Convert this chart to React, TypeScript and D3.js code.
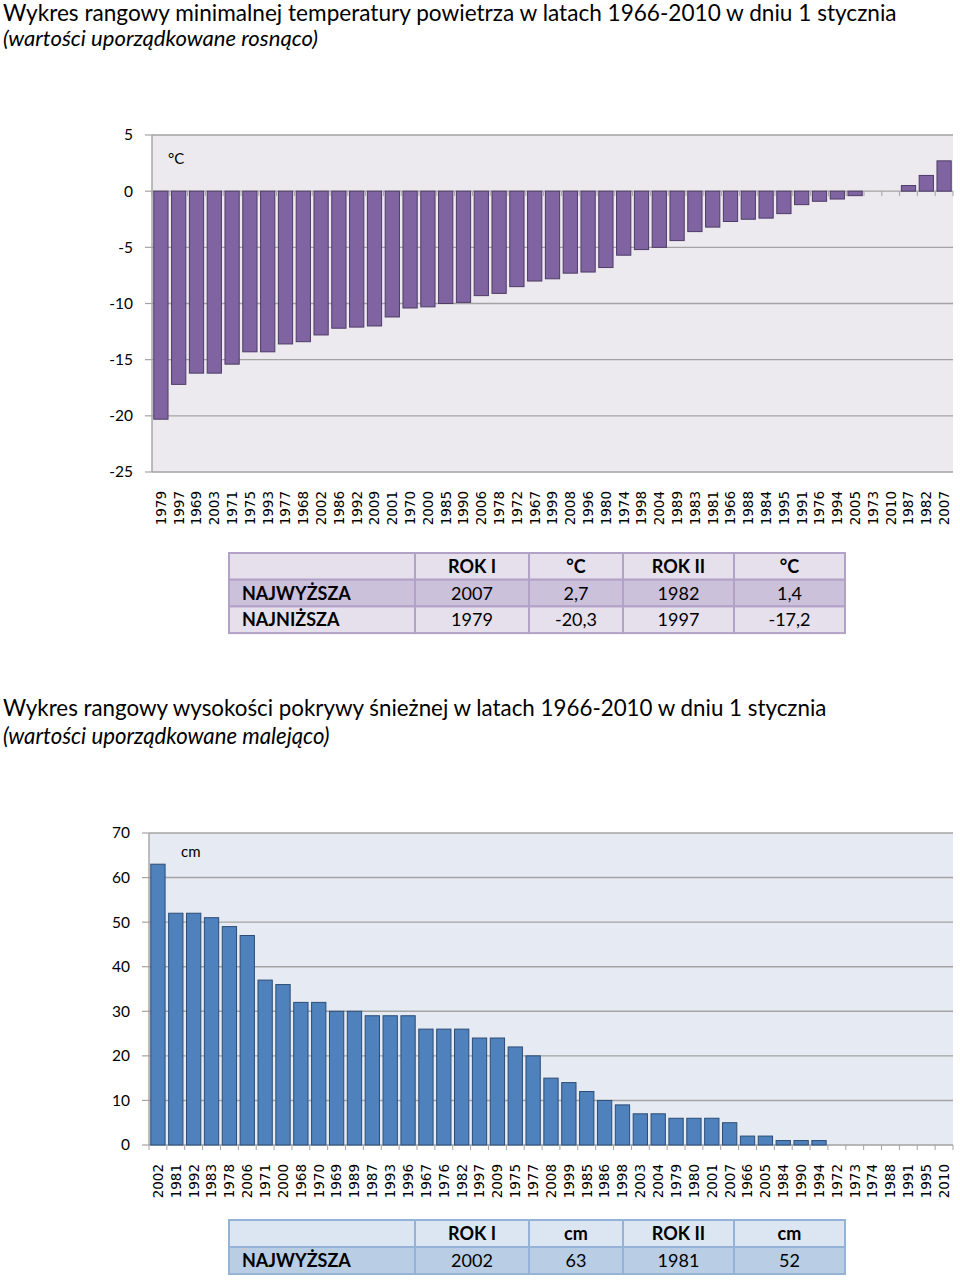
import React from "react";
import * as d3 from "d3";

// ---------- DATA ----------
const tempYears = ["1979","1997","1969","2003","1971","1975","1993","1977","1968","2002","1986","1992","2009","2001","1970","2000","1985","1990","2006","1978","1972","1967","1999","2008","1996","1980","1974","1998","2004","1989","1983","1981","1966","1988","1984","1995","1991","1976","1994","2005","1973","2010","1987","1982","2007"];
const tempValues = [-20.3,-17.2,-16.2,-16.2,-15.4,-14.3,-14.3,-13.6,-13.4,-12.8,-12.2,-12.1,-12.0,-11.2,-10.4,-10.3,-10.0,-9.9,-9.3,-9.1,-8.5,-8.0,-7.8,-7.3,-7.2,-6.8,-5.7,-5.2,-5.0,-4.4,-3.6,-3.2,-2.7,-2.5,-2.4,-2.0,-1.2,-0.9,-0.7,-0.4,0,0,0.5,1.4,2.7];
const tempTicks = [5,0,-5,-10,-15,-20,-25];

const snowYears = ["2002","1981","1992","1983","1978","2006","1971","2000","1968","1970","1969","1989","1987","1993","1996","1967","1976","1982","1997","2009","1975","1977","2008","1999","1985","1986","1998","2003","2004","1979","1980","2001","2007","1966","2005","1984","1990","1994","1972","1973","1974","1988","1991","1995","2010"];
const snowValues = [63,52,52,51,49,47,37,36,32,32,30,30,29,29,29,26,26,26,24,24,22,20,15,14,12,10,9,7,7,6,6,6,5,2,2,1,1,1,0,0,0,0,0,0,0];
const snowTicks = [70,60,50,40,30,20,10,0];

const table1Header = ["", "ROK I", "°C", "ROK II", "°C"];
const table1Rows = [
  ["NAJWYŻSZA", "2007", "2,7", "1982", "1,4"],
  ["NAJNIŻSZA", "1979", "-20,3", "1997", "-17,2"],
];
const table2Header = ["", "ROK I", "cm", "ROK II", "cm"];
const table2Rows = [["NAJWYŻSZA", "2002", "63", "1981", "52"]];

const FONT = "Lato, 'Open Sans', sans-serif";
const LABEL_FONT = "'DejaVu Sans', sans-serif";

type ChartProps = {
  years: string[];
  values: number[];
  ticks: number[];
  domain: [number, number];
  top: number;
  bottom: number;
  left: number;
  right: number;
  bg: string;
  fill: string;
  stroke: string;
  unit: string;
  unitX: number;
  unitY: number;
};

function BarChart(p: ChartProps) {
  const x = d3.scaleBand<string>().domain(p.years).range([p.left, p.right]).paddingInner(0.2).paddingOuter(0.1);
  const y = d3.scaleLinear().domain(p.domain).range([p.bottom, p.top]);
  const y0 = y(0);
  const edges = d3.range(p.years.length + 1).map((i) => p.left + i * ((p.right - p.left) / p.years.length));
  return (
    <g>
      <rect x={p.left} y={p.top} width={p.right - p.left} height={p.bottom - p.top} fill={p.bg} />
      {p.ticks.map((t) => (
        <g key={t}>
          <line x1={p.left} x2={p.right} y1={y(t)} y2={y(t)} stroke="#A3A3A3" strokeWidth={1.4} />
          <line x1={p.left - 7} x2={p.left} y1={y(t)} y2={y(t)} stroke="#A3A3A3" strokeWidth={1.2} />
          <text x={p.left - 19} y={y(t)} dy="0.35em" textAnchor="end" fontFamily={FONT} fontSize={15.5} fill="#000">{t}</text>
        </g>
      ))}
      <line x1={p.left} x2={p.left} y1={p.top} y2={p.bottom} stroke="#A3A3A3" strokeWidth={1.4} />
      {edges.map((ex, i) => (
        <line key={i} x1={ex} x2={ex} y1={y0} y2={y0 + 5} stroke="#A3A3A3" strokeWidth={1} />
      ))}
      {p.years.map((yr, i) => {
        const v = p.values[i];
        if (v === 0) return null;
        const yy = Math.min(y(v), y0);
        const h = Math.abs(y(v) - y0);
        return <rect key={yr + i} x={x(yr)} y={yy} width={x.bandwidth()} height={h} fill={p.fill} stroke={p.stroke} strokeWidth={1} />;
      })}
      {p.years.map((yr, i) => {
        const cx = (x(yr) as number) + x.bandwidth() / 2;
        const ty = p.bottom + 19;
        return (
          <text key={"l" + i} transform={`translate(${cx},${ty}) rotate(-90)`} textAnchor="end" dy="0.36em" fontFamily={LABEL_FONT} fontSize={13.5} fill="#000">{yr}</text>
        );
      })}
      <text x={p.unitX} y={p.unitY} fontFamily={FONT} fontSize={15} fill="#000">{p.unit}</text>
    </g>
  );
}

type TableProps = {
  header: string[];
  rows: string[][];
  top: number;
  rowH: number;
  colX: number[];
  headFill: string;
  rowFills: string[];
  border: string;
};

function DataTable(p: TableProps) {
  const allRows = [p.header, ...p.rows];
  const fills = [p.headFill, ...p.rowFills];
  return (
    <g>
      {allRows.map((r, ri) => (
        <g key={ri}>
          {r.map((c, ci) => {
            const x0 = p.colX[ci];
            const x1 = p.colX[ci + 1];
            const y0 = p.top + ri * p.rowH;
            const bold = ri === 0 || ci === 0;
            return (
              <g key={ci}>
                <rect x={x0} y={y0} width={x1 - x0} height={p.rowH} fill={fills[ri]} stroke={p.border} strokeWidth={2} />
                <text
                  x={ci === 0 ? x0 + 13 : (x0 + x1) / 2}
                  y={y0 + p.rowH / 2}
                  dy="0.36em"
                  textAnchor={ci === 0 ? "start" : "middle"}
                  fontFamily={FONT}
                  fontWeight={bold ? 700 : 400}
                  fontSize={18}
                  fill="#000"
                >{c}</text>
              </g>
            );
          })}
        </g>
      ))}
    </g>
  );
}

export default function App() {
  const colX = [229, 415, 529, 623, 734, 845];
  return (
    <svg width={960} height={1284} style={{ position: "absolute", left: 0, top: 0, background: "#fff" }}>
      <rect width={960} height={1284} fill="#fff" />
      <text x={3} y={21} fontFamily={FONT} fontSize={22.6} fill="#000">Wykres rangowy minimalnej temperatury powietrza w latach 1966-2010 w dniu 1 stycznia</text>
      <text x={3} y={46} fontFamily={FONT} fontStyle="italic" fontSize={22.1} fill="#000">(wartości uporządkowane rosnąco)</text>

      <BarChart years={tempYears} values={tempValues} ticks={tempTicks} domain={[-25, 5]} top={135} bottom={472} left={152} right={953}
        bg="#ECEAEF" fill="#8064A2" stroke="#4E3B66" unit="°C" unitX={168} unitY={164} />

      <DataTable header={table1Header} rows={table1Rows} top={553} rowH={26.7} colX={colX}
        headFill="#E5E0EC" rowFills={["#CCC1DA", "#E5E0EC"]} border="#B3A2C7" />

      <text x={3} y={716} fontFamily={FONT} fontSize={22.35} fill="#000">Wykres rangowy wysokości pokrywy śnieżnej w latach 1966-2010 w dniu 1 stycznia</text>
      <text x={3} y={744} fontFamily={FONT} fontStyle="italic" fontSize={22.2} fill="#000">(wartości uporządkowane malejąco)</text>

      <BarChart years={snowYears} values={snowValues} ticks={snowTicks} domain={[0, 70]} top={833} bottom={1145} left={149} right={953}
        bg="#E6EAF2" fill="#4F81BD" stroke="#2C4D75" unit="cm" unitX={181} unitY={857} />

      <DataTable header={table2Header} rows={table2Rows} top={1220} rowH={27} colX={colX}
        headFill="#DCE6F2" rowFills={["#B9CDE5"]} border="#95B3D7" />
    </svg>
  );
}
